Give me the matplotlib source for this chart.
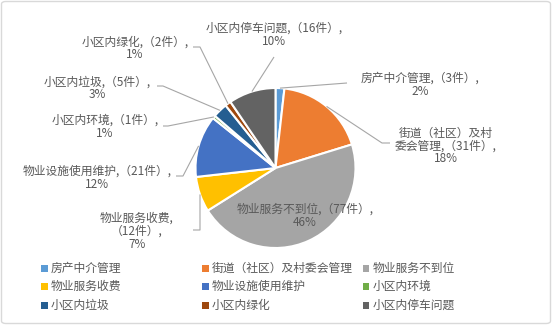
import matplotlib
matplotlib.use('Agg')
import matplotlib.pyplot as plt
from matplotlib.patches import Rectangle, FancyBboxPatch
import numpy as np

plt.rcParams['font.family'] = ['Noto Sans CJK SC', 'DejaVu Sans']

names = ['房产中介管理', '街道（社区）及村委会管理', '物业服务不到位', '物业服务收费',
         '物业设施使用维护', '小区内环境', '小区内垃圾', '小区内绿化', '小区内停车问题']
counts = [3, 31, 77, 12, 21, 1, 5, 2, 16]
colors = ['#5B9BD5', '#ED7D31', '#A5A5A5', '#FFC000', '#4472C4',
          '#70AD47', '#255E91', '#9E480E', '#636363']

# label heads (with line breaks) and separators before the count
heads = ['房产中介管理', '街道（社区）及村\n委会管理', '物业服务不到位', '物业服务收费',
         '物业设施使用维护', '小区内环境', '小区内垃圾', '小区内绿化', '小区内停车问题']
seps = [',', ',', ',', ',\n', ',', ',', ',', ',', ',']

# label centres and leader-line bends, in pixels from the top-left corner
label_xy = [(420, 85), (446, 146), (305, 216), (137, 231), (97, 178),
            (105, 127), (97, 88.5), (135, 48.5), (274, 35)]
leader_pts = [[(347, 83)], [(382, 143), (390, 143)], None, [(200, 230), (193, 230)],
              [(183, 176), (176, 176)], [(168, 126), (163, 126)], [(163, 86), (157, 86)],
              [(200, 47), (193, 47)], [(274, 57)]]

W, H = 552, 325
CX, CY, R = 275.5, 168, 80.0
TXT = '#595959'


def P(px, py):
    return (px - CX) / R, (CY - py) / R


fig = plt.figure(figsize=(W / 100, H / 100), dpi=100)
ax = fig.add_axes([0, 0, 1, 1])

total = sum(counts)
wedges, _ = ax.pie(counts, colors=colors, startangle=90, counterclock=False,
                   radius=1, center=(0, 0),
                   wedgeprops=dict(edgecolor='white', linewidth=1.5))

ax.set_xlim(-CX / R, (W - CX) / R)
ax.set_ylim((CY - H) / R, CY / R)
ax.set_aspect('equal')
ax.axis('off')

for i, w in enumerate(wedges):
    pct = round(counts[i] / total * 100)
    text = f'{heads[i]}{seps[i]}（{counts[i]}件）,\n{pct}%'
    tx, ty = P(*label_xy[i])
    ax.text(tx, ty, text, ha='center', va='center', multialignment='center',
            fontsize=8.5, color=TXT, linespacing=1.0)
    if leader_pts[i] is None:
        continue
    mid = np.deg2rad((w.theta1 + w.theta2) / 2)
    xs = [np.cos(mid)] + [P(*p)[0] for p in leader_pts[i]]
    ys = [np.sin(mid)] + [P(*p)[1] for p in leader_pts[i]]
    ax.plot(xs, ys, color='#A6A6A6', lw=0.8, solid_capstyle='butt')

# legend, three columns
col_x = [44, 205, 366]
row_y = [268, 286, 305]
for i, name in enumerate(names):
    px = col_x[i % 3]
    py = row_y[i // 3]
    fig.patches.append(Rectangle(((px - 3.5) / W, 1 - (py + 3.5) / H), 7 / W, 7 / H,
                                 transform=fig.transFigure, facecolor=colors[i],
                                 edgecolor='none'))
    fig.text((px + 7) / W, 1 - py / H, name, ha='left', va='center',
             fontsize=8.5, color=TXT)

fig.patches.append(FancyBboxPatch((1.5 / W, 1.5 / H), 1 - 3 / W, 1 - 3 / H,
                                  boxstyle='round,pad=0,rounding_size=0.008',
                                  transform=fig.transFigure, facecolor='none',
                                  edgecolor='#D9D9D9', linewidth=1))

fig.savefig('out.png', dpi=100)
